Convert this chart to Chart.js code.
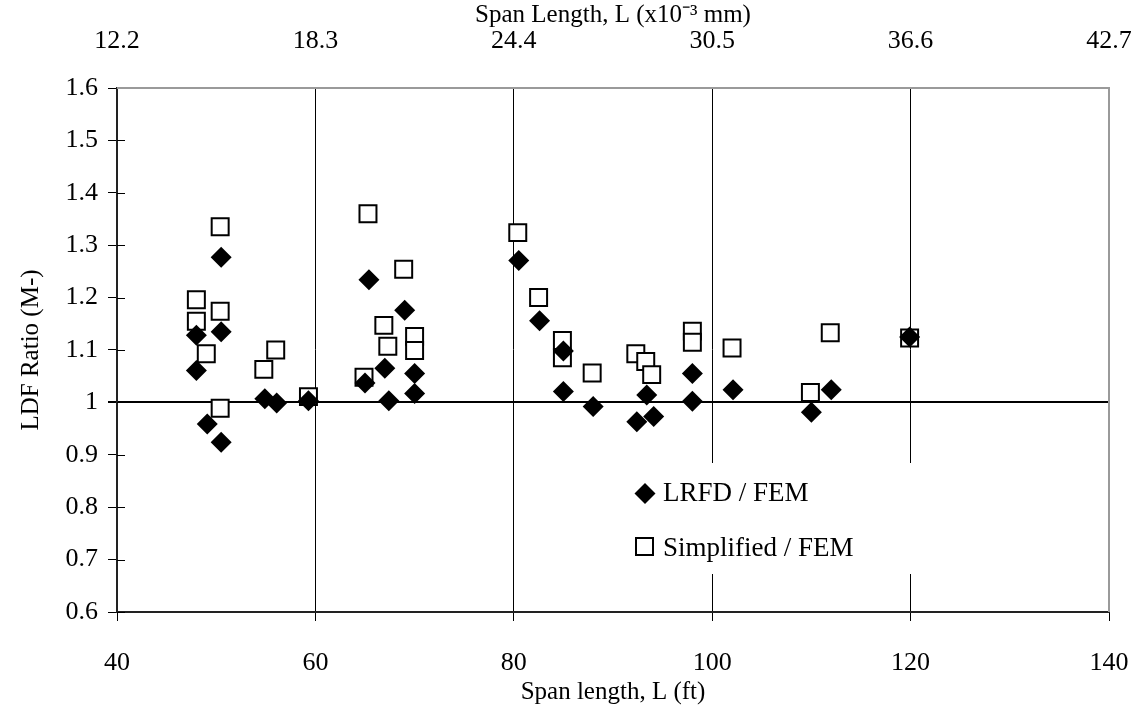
<!DOCTYPE html>
<html>
<head>
<meta charset="utf-8">
<script src="https://cdn.jsdelivr.net/npm/chart.js@4"></script>
<style>
  body { margin: 0; background: #fff; }
</style>
</head>
<body>
<canvas id="canvasLDF" width="1144" height="713"></canvas>
<script>
// Datos
var lrfdSpan = [50.5, 48.0, 50.5, 48.0, 54.9, 56.1, 59.3, 49.1, 50.5,
  65.4, 69.0, 67.0, 70.0, 65.0, 70.0, 67.4,
  80.5, 82.6, 85.0, 85.0, 88.0, 93.4, 92.4, 94.1, 98.0, 98.0, 102.1,
  119.9, 112.0, 110.0];
var lrfdRatio = [1.277, 1.128, 1.135, 1.061, 1.007, 0.999, 1.003, 0.959, 0.924,
  1.234, 1.176, 1.065, 1.055, 1.037, 1.017, 1.003,
  1.271, 1.156, 1.098, 1.021, 0.992, 1.014, 0.963, 0.973, 1.055, 1.002, 1.024,
  1.125, 1.024, 0.981];

var simpSpan = [50.4, 48.0, 50.4, 48.0, 49.0, 56.0, 54.8, 59.3, 50.4,
  65.3, 68.9, 66.9, 67.3, 70.0, 70.0, 64.9,
  80.4, 82.5, 84.9, 84.9, 87.9, 92.3, 93.3, 93.9, 98.0, 98.0, 102.0,
  111.9, 119.9, 109.9];
var simpRatio = [1.335, 1.196, 1.174, 1.155, 1.093, 1.100, 1.063, 1.011, 0.989,
  1.360, 1.254, 1.147, 1.107, 1.126, 1.099, 1.048,
  1.324, 1.200, 1.118, 1.085, 1.056, 1.093, 1.078, 1.053, 1.136, 1.115, 1.104,
  1.133, 1.123, 1.019];

var mmLabels = ["12.2", "18.3", "24.4", "30.5", "36.6", "42.7"];
var seriesNames = ["LRFD / FEM", "Simplified / FEM"];

function puntos(xs, ys) {
  var out = [];
  for (var i = 0; i < xs.length; i++) {
    out.push({ x: xs[i], y: ys[i] });
  }
  return out;
}

var fuente = "'Liberation Serif', 'Times New Roman', serif";
Chart.defaults.font.family = fuente;
Chart.defaults.color = "#000";

// Leyenda dentro del área, marco superior/derecho y marcas internas del eje Y
var marcoPlugin = {
  id: "marco",
  afterDatasetsDraw: function (chart) {
    var ctx = chart.ctx;
    var a = chart.chartArea;
    var y = chart.scales.y;
    ctx.save();
    // marcas internas del eje y
    ctx.strokeStyle = "#000";
    ctx.lineWidth = 1;
    y.ticks.forEach(function (t) {
      var py = Math.round(y.getPixelForValue(t.value)) + 0.5;
      ctx.beginPath();
      ctx.moveTo(a.left, py);
      ctx.lineTo(a.left + 8, py);
      ctx.stroke();
    });
    // marco gris arriba y derecha
    ctx.strokeStyle = "#9a9a9a";
    ctx.lineWidth = 2;
    ctx.beginPath();
    ctx.moveTo(a.left, a.top);
    ctx.lineTo(a.right, a.top);
    ctx.lineTo(a.right, a.bottom);
    ctx.stroke();
    // leyenda
    ctx.fillStyle = "#fff";
    ctx.fillRect(622, 463, 303, 111);
    ctx.fillStyle = "#000";
    ctx.beginPath();
    ctx.moveTo(645, 483);
    ctx.lineTo(655.5, 493.5);
    ctx.lineTo(645, 504);
    ctx.lineTo(634.5, 493.5);
    ctx.closePath();
    ctx.fill();
    ctx.strokeStyle = "#000";
    ctx.lineWidth = 2;
    ctx.strokeRect(636, 538, 17, 17);
    ctx.font = "27px " + fuente;
    ctx.textBaseline = "middle";
    ctx.textAlign = "left";
    ctx.fillText(seriesNames[0], 663, 494);
    ctx.fillText(seriesNames[1], 663, 549);
    ctx.restore();
  }
};

// margen fijo a la derecha del área de trazado
function ajusteX(alto) {
  return function (s) {
    s.height = alto;
    s.paddingLeft = 0;
    s.paddingRight = 35;
  };
}

var ctx = document.getElementById("canvasLDF").getContext("2d");
var chart = new Chart(ctx, {
  type: "scatter",
  data: {
    datasets: [
      {
        label: seriesNames[0],
        data: puntos(lrfdSpan, lrfdRatio),
        pointStyle: "rectRot",
        pointRadius: 10.5,
        pointHoverRadius: 10.5,
        backgroundColor: "#000",
        borderColor: "#000",
        borderWidth: 0,
      },
      {
        label: seriesNames[1],
        data: puntos(simpSpan, simpRatio),
        pointStyle: "rect",
        pointRadius: 12,
        pointHoverRadius: 12,
        backgroundColor: "#fff",
        borderColor: "#000",
        borderWidth: 2,
      },
    ],
  },
  options: {
    responsive: false,
    animation: false,
    devicePixelRatio: 1,
    layout: { padding: 0 },
    plugins: {
      legend: { display: false },
      tooltip: { enabled: false },
    },
    scales: {
      x: {
        type: "linear",
        position: "bottom",
        min: 40,
        max: 140,
        afterFit: ajusteX(101),
        ticks: { stepSize: 20, font: { size: 26 }, padding: 27, maxRotation: 0 },
        grid: {
          color: function (c) {
            return c.tick && c.tick.value > 40 && c.tick.value < 140 ? "#000" : "rgba(0,0,0,0)";
          },
          tickColor: "#000",
          tickLength: 9,
          lineWidth: 1,
        },
        border: { color: "#222", width: 2 },
        title: {
          display: true,
          text: "Span length, L (ft)",
          font: { size: 25 },
          padding: { top: 0, bottom: 6 },
        },
      },
      x2: {
        type: "linear",
        position: "top",
        min: 40,
        max: 140,
        afterFit: ajusteX(88),
        ticks: {
          stepSize: 20,
          font: { size: 26 },
          padding: 23,
          maxRotation: 0,
          callback: function (v, i) { return mmLabels[i]; },
        },
        grid: { display: false },
        border: { display: false },
        title: {
          display: true,
          text: "Span Length, L (x10\u207B\u00B3 mm)",
          font: { size: 25 },
          padding: { top: 0, bottom: 0 },
        },
      },
      y: {
        min: 0.6,
        max: 1.6,
        afterFit: function (s) { s.width = 117; },
        ticks: {
          stepSize: 0.1,
          font: { size: 26 },
          padding: 10,
          callback: function (v) { return String(Math.round(v * 10) / 10); },
        },
        grid: {
          color: function (c) {
            return c.tick && Math.abs(c.tick.value - 1) < 1e-6 ? "#000" : "rgba(0,0,0,0)";
          },
          lineWidth: function (c) {
            return c.tick && Math.abs(c.tick.value - 1) < 1e-6 ? 2 : 1;
          },
          tickColor: "#000",
          tickLength: 9,
        },
        border: { color: "#222", width: 2 },
        title: {
          display: true,
          text: "LDF Ratio (M-)",
          font: { size: 25 },
          padding: { top: 16, bottom: 0 },
        },
      },
    },
  },
  plugins: [marcoPlugin],
});
</script>
</body>
</html>
